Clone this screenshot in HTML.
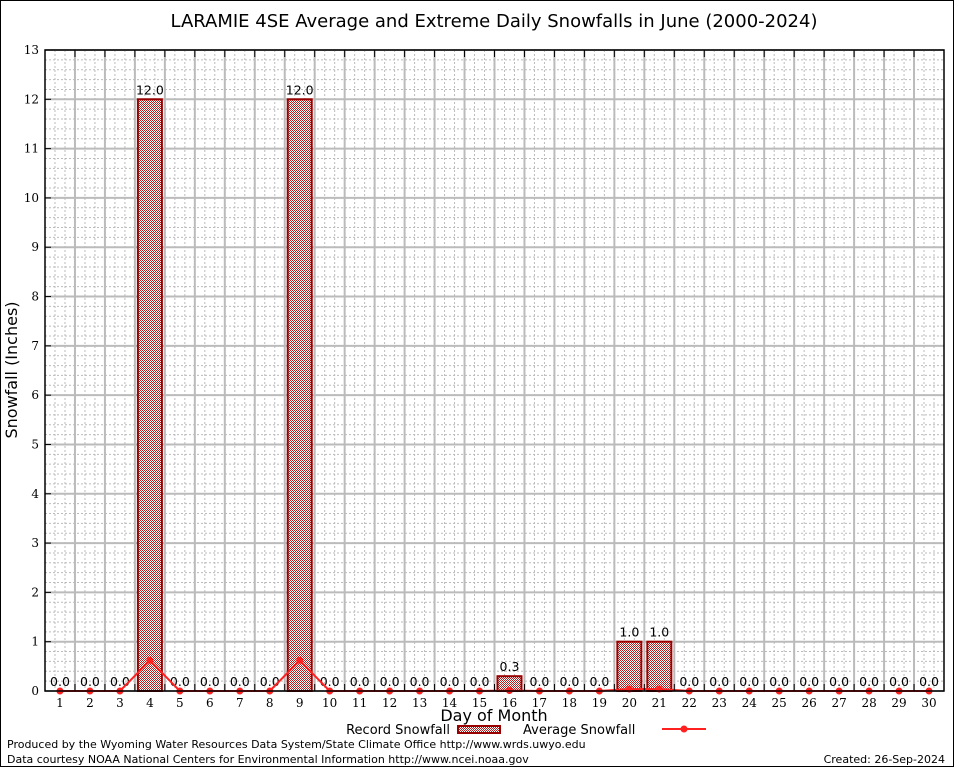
<!DOCTYPE html>
<html><head><meta charset="utf-8"><style>
body{margin:0;background:#fff}
svg{display:block}
text{font-family:"DejaVu Sans","Liberation Sans",sans-serif}
.serif{font-family:"DejaVu Serif","Liberation Serif",serif}
</style></head><body>
<svg id="chart" width="954" height="768" viewBox="0 0 954 768" xmlns="http://www.w3.org/2000/svg">
<defs>
<pattern id="hatch" width="2" height="2" patternUnits="userSpaceOnUse">
<rect width="2" height="2" fill="#fff"/>
<rect width="1" height="1" fill="#b02020"/><rect x="1" y="1" width="1" height="1" fill="#b02020"/>
</pattern>
</defs>
<rect x="0.5" y="0.5" width="953" height="766" fill="#fff" stroke="#000"/>
<text x="494" y="27" font-size="18" text-anchor="middle">LARAMIE 4SE Average and Extreme Daily Snowfalls in June (2000-2024)</text>
<g id="grid"></g>
<g id="bars"></g>
<g id="line"></g>
<g id="axes"></g>
<text transform="translate(17,370) rotate(-90)" font-size="16" text-anchor="middle">Snowfall (Inches)</text>
<text x="494" y="721" font-size="16" text-anchor="middle">Day of Month</text>
<g>
<text x="450" y="734" font-size="13" text-anchor="end">Record Snowfall</text>
<rect x="458" y="726" width="42" height="7" fill="url(#hatch)" stroke="#990000" stroke-width="2"/>
<text x="523" y="734" font-size="13">Average Snowfall</text>
<line x1="662" y1="729" x2="706" y2="729" stroke="#ff2020" stroke-width="2"/>
<circle cx="684" cy="729" r="3.5" fill="#ff2020"/>
</g>
<text x="7" y="748" font-size="11">Produced by the Wyoming Water Resources Data System/State Climate Office http://www.wrds.uwyo.edu</text>
<text x="7" y="763" font-size="11">Data courtesy NOAA National Centers for Environmental Information http://www.ncei.noaa.gov</text>
<text x="945" y="763" font-size="11" text-anchor="end">Created: 26-Sep-2024</text>
</svg>
<script>
const days=[1,2,3,4,5,6,7,8,9,10,11,12,13,14,15,16,17,18,19,20,21,22,23,24,25,26,27,28,29,30];
const records=[0,0,0,12,0,0,0,0,12,0,0,0,0,0,0,0.3,0,0,0,1,1,0,0,0,0,0,0,0,0,0];
const averages=[0,0,0,0.62,0,0,0,0,0.62,0,0,0,0,0,0,0.01,0,0,0,0.04,0.04,0,0,0,0,0,0,0,0,0];
const yTicks=[0,1,2,3,4,5,6,7,8,9,10,11,12,13];
const L=45,R=944,T=50,B=691,yMax=13;
const NS='http://www.w3.org/2000/svg';
const step=(R-L)/days.length;
function x(d){return L+(d-0.5)*step;}
function y(v){return B-(v/yMax)*(B-T);}
function mk(tag,attrs,parent,txt){const e=document.createElementNS(NS,tag);for(const k in attrs)e.setAttribute(k,attrs[k]);if(txt!==undefined)e.textContent=txt;parent.appendChild(e);return e;}
const grid=document.getElementById('grid'),bars=document.getElementById('bars'),line=document.getElementById('line'),axes=document.getElementById('axes');
for(let v=0;v<yMax;v+=0.2){const yy=y(v);const l=mk('line',{x1:L,x2:R,y1:yy,y2:yy,stroke:'#bbb','stroke-width':1,'stroke-dasharray':'2,2'},grid);

}
for(let i=0;i<days.length;i++){for(let j=1;j<3;j++){const xx=L+i*step+j*step/3;const l=mk('line',{x1:xx,x2:xx,y1:T,y2:B,stroke:'#bbb','stroke-width':1,'stroke-dasharray':'2,2'},grid);

}}
yTicks.forEach(v=>{const yy=y(v);const l=mk('line',{x1:L,x2:R,y1:yy,y2:yy,stroke:'#bbb','stroke-width':2},grid);


const t=mk('text',{x:L-6,y:yy+4,'font-size':12,'text-anchor':'end',class:'serif'},axes,String(v));


const tk=mk('line',{x1:L,x2:L+6,y1:yy,y2:yy,stroke:'#000'},axes);

});
for(let i=1;i<days.length;i++){const xx=L+i*step;const l=mk('line',{x1:xx,x2:xx,y1:T,y2:B,stroke:'#bbb','stroke-width':2},grid);


for(const [a,b] of [[B,B-7],[T,T+7]]){const tk=mk('line',{x1:xx,x2:xx,y1:a,y2:b,stroke:'#000'},axes);

}}
days.forEach((d,i)=>{const v=records[i];
if(v>0){const r=mk('rect',{x:x(d)-12,y:y(v),width:24,height:B-y(v),fill:'url(#hatch)',stroke:'#990000','stroke-width':2},bars);

}
const t=mk('text',{x:x(d),y:y(v)-5,'font-size':12.5,'text-anchor':'middle'},bars,v.toFixed(1));


const xl=mk('text',{x:x(d),y:B+16,'font-size':12,'text-anchor':'middle',class:'serif'},axes,String(d));

});
const pl=mk('polyline',{points:days.map((d,i)=>x(d)+','+y(averages[i])).join(' '),fill:'none',stroke:'#ff2020','stroke-width':2},line);


days.forEach((d,i)=>{const c=mk('circle',{cx:x(d),cy:y(averages[i]),r:3.5,fill:'#ff2020'},line);

});
const fr=mk('rect',{x:L,y:T,width:R-L,height:B-T,fill:'none',stroke:'#000','stroke-width':1.5},axes);


</script>
</body></html>
